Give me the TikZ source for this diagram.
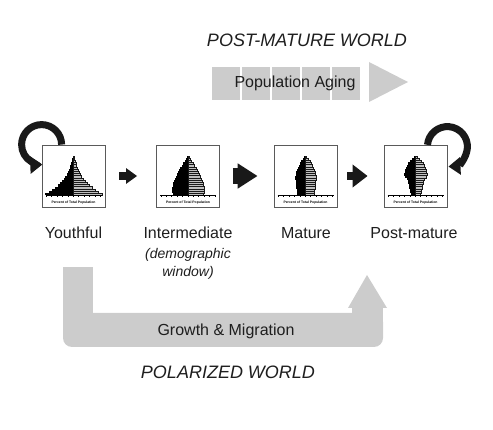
\documentclass[tikz,border=0pt]{standalone}
\usepackage{fontspec}
\setmainfont{Liberation Sans}
\usetikzlibrary{arrows.meta,positioning,calc}
\definecolor{colBand}{RGB}{204,204,204}
\definecolor{colText}{RGB}{30,30,30}
\definecolor{colFrame}{RGB}{90,90,90}
\tikzset{
  popbox/.style   = {rectangle, draw=colFrame, fill=white, line width=0.8pt,
                     minimum width=63pt, minimum height=62pt, inner sep=0pt},
  stagelbl/.style = {text=colText, inner sep=0pt,
                     font=\fontsize{16}{19}\selectfont},
  notelbl/.style  = {text=colText, inner sep=0pt, align=center,
                     font=\fontsize{14}{18}\selectfont\itshape},
  worldlbl/.style = {text=colText, inner sep=0pt,
                     font=\fontsize{18}{21}\selectfont\itshape},
  axislbl/.style  = {inner sep=0pt, font=\fontsize{3.4}{4}\selectfont\bfseries},
  pyrbar/.style   = {fill=black!25, draw=black!90, line width=0.45pt},
  ring/.style     = {-{Triangle[width=17pt,length=12pt]}, line width=7pt, black!90},
  smallarr/.style = {-{Triangle[width=15pt,length=11pt]}, line width=8pt, black!90},
  bigarr/.style   = {-{Triangle[width=24pt,length=20pt]}, line width=16pt, black!90},
}
%% half widths of the bars, bottom to top
\newcommand{\drawpyramid}[2]{%
  \foreach \w [count=\i] in {#2} {
    \fill[black] ($(#1)+(-\w,{-(\i-1)*2.2})$) rectangle ($(#1)+(0,{-\i*2.2})$);
    \draw[pyrbar] ($(#1)+(0,{-(\i-1)*2.2})$) rectangle ($(#1)+(\w,{-\i*2.2})$);
  }
  \draw[black, line width=0.6pt] ($(#1)+(-28,0)$) -- ($(#1)+(28,0)$);
  \foreach \k in {-5,...,5}
    \fill[black] ($(#1)+({\k*5.4-0.5},-0.8)$) rectangle ++(1,2.2);
}

\begin{document}
\begin{tikzpicture}[x=1pt, y=-1pt]
\useasboundingbox (0,0) rectangle (493,430);

%% Post-mature world band
\node[worldlbl] (post_world) at (307,40) {POST-MATURE WORLD};
\foreach \k in {0,...,4}
  \fill[colBand] ({212+\k*30},67) rectangle ++(27.5,33);
\fill[colBand] (369,62) -- (408,82) -- (369,102) -- cycle;
\node[stagelbl] (aging_lbl) at (295,83) {Population Aging};

%% Four stages
\node[popbox] (youth_box) at (73.5,176) {};
\node[popbox] (inter_box) at (188,176)  {};
\node[popbox] (mat_box)   at (305.5,176) {};
\node[popbox] (post_box)  at (415.5,176) {};

\coordinate (youth_base) at ($(youth_box.south)+(0,-12)$);
\coordinate (inter_base) at ($(inter_box.south)+(0,-12)$);
\coordinate (mat_base)   at ($(mat_box.south)+(0,-12)$);
\coordinate (post_base)  at ($(post_box.south)+(0,-12)$);

\drawpyramid{youth_base}{29,25,21.5,18.5,15.8,13.4,11.4,9.7,8.2,6.9,5.8,4.8,3.9,3.1,2.4,1.8,1.2,0.7}
\drawpyramid{inter_base}{15,16.5,16.5,16,15.5,15,14,13,12,11,10,9,8,6.5,5,3.5,2,1}
\drawpyramid{mat_base}{8.5,9,9,9.5,9.5,10,10,10.5,10.5,10,9.5,9,8,7,6,4.5,3,1.2}
\drawpyramid{post_base}{5,5.5,6,6.5,7,7.5,8,9,10.5,11.5,11,10.5,10,9,7.5,6,4,2}

\node[axislbl] (youth_axis) at ($(youth_box.south)+(0,-4.5)$) {Percent of Total Population};
\node[axislbl] (inter_axis) at ($(inter_box.south)+(0,-4.5)$) {Percent of Total Population};
\node[axislbl] (mat_axis)   at ($(mat_box.south)+(0,-4.5)$)   {Percent of Total Population};
\node[axislbl] (post_axis)  at ($(post_box.south)+(0,-4.5)$)  {Percent of Total Population};

%% Stage names
\node[stagelbl] (youth_lbl) at (73.5,233) {Youthful};
\node[stagelbl] (inter_lbl) at (188,233)  {Intermediate};
\node[notelbl]  (inter_note) at (188,264) {(demographic\\window)};
\node[stagelbl] (mat_lbl)   at (306,233)  {Mature};
\node[stagelbl] (post_lbl)  at (414,233)  {Post-mature};

%% Arrows between stages
\draw[smallarr, shorten <=14pt, shorten >=19pt] (youth_box) -- (inter_box);
\draw[bigarr,   shorten <=13pt, shorten >=16pt] (inter_box) -- (mat_box);
\draw[smallarr, shorten <=10pt, shorten >=16pt, -{Triangle[width=22pt,length=15pt]}]
     (mat_box) -- (post_box);

%% Loops
\coordinate (youth_ring) at (youth_box.north west);
\coordinate (post_ring)  at ($(post_box.north east)+(0,2)$);
\draw[ring] (youth_ring) ++(0:20) arc[start angle=0, end angle=-272, radius=20];
\draw[ring] (post_ring) ++(185:20) arc[start angle=185, end angle=447, radius=20];

%% Polarized world band
\fill[colBand, rounded corners=9pt] (63,313) rectangle (383,347);
\fill[colBand] (63,267) rectangle (93,330);
\fill[colBand] (352,307) rectangle (383,330);
\fill[colBand] (348,308) -- (367,275) -- (387,308) -- cycle;
\node[stagelbl] (growth_lbl) at (226,331) {Growth \& Migration};
\node[worldlbl] (polar_world) at (228,372) {POLARIZED WORLD};

\end{tikzpicture}
\end{document}
